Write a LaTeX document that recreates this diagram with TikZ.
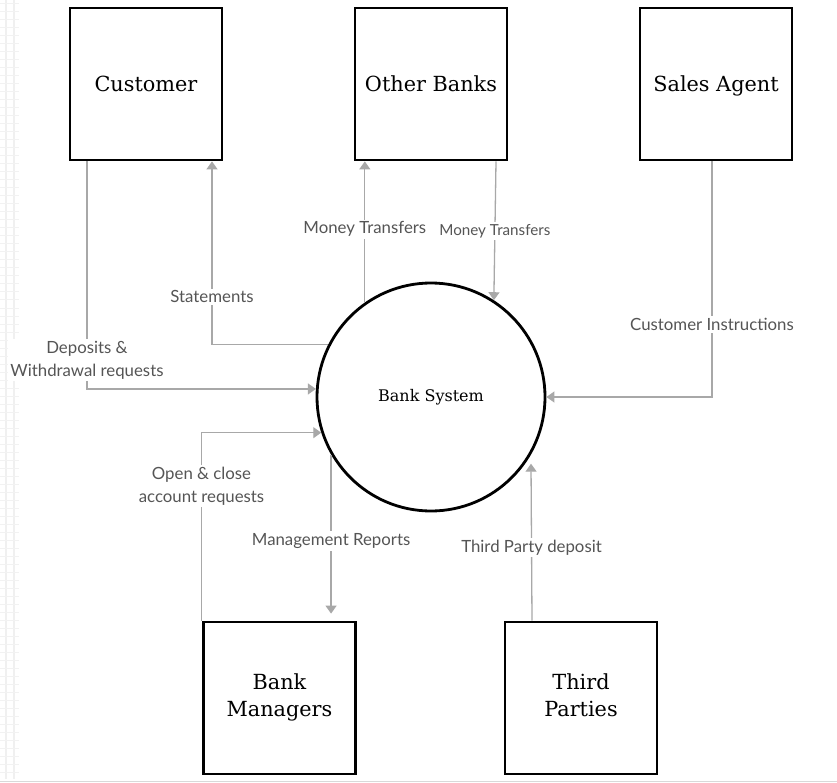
\documentclass[tikz,border=0pt]{standalone}
\usepackage{fontspec}
\setmainfont{DejaVu Serif}
\newfontfamily\lblfont{Lato}
\usetikzlibrary{arrows.meta, positioning}
\definecolor{flowgrey}{RGB}{168,168,168}
\definecolor{lblgrey}{RGB}{85,85,85}
\newcommand{\boxstrut}{\rule[-5pt]{0pt}{25pt}}

\begin{document}
\begin{tikzpicture}[x=1pt, y=-1pt,
    entity/.style={draw=black, line width=2.8pt, minimum size=152pt, inner sep=0pt, align=center, font=\fontsize{20.8}{27}\selectfont, execute at begin node=\boxstrut},
    process/.style={circle, draw=black, line width=2.8pt, minimum size=228pt, inner sep=0pt, font=\fontsize{16}{19}\selectfont},
    flow/.style={draw=flowgrey, line width=1.3pt, -{Triangle[width=11pt, length=8pt]}},
    lbl/.style={fill=white, text=lblgrey, inner sep=2pt, align=center, font=\lblfont\fontsize{16.8}{23}\selectfont},
    smalllbl/.style={lbl, font=\lblfont\fontsize{15.2}{18}\selectfont}
]
    % canvas
    \useasboundingbox (0,0) rectangle (837,783);
    \fill[white] (0,0) rectangle (837,783);
    % faint grid strip on the left
    \foreach \gx in {6,14} {
      \draw[black!6, line width=1.2pt] (\gx,0) -- (\gx,779);
    }
    \foreach \gy in {4,12,...,779} {
      \draw[black!5, line width=1pt] (0,\gy) -- (19,\gy);
    }
    \draw[black!15, line width=1.5pt] (0,781.5) -- (837,781.5);

    % external entities
    \node[entity] (cust) at (146,84) {Customer};
    \node[entity] (ob) at (431,84) {Other Banks};
    \node[entity] (sa) at (716,84) {Sales Agent};
    \node[entity] (bm) at (279.5,698) {Bank\\Managers};
    \node[entity] (tp) at (581,698) {Third\\Parties};

    % the system
    \node[process] (bank) at (431,397) {Bank System};

    % flows in and out of the system
    \draw[flow] ([xshift=-59pt]cust.south) |- (bank.176)
      node[lbl, pos=0.436] {Deposits \&\\Withdrawal requests};
    \draw[flow] (bank.153) -| ([xshift=66pt]cust.south)
      node[lbl, pos=0.63] {Statements};
    \draw[flow] (bank.125) -- (bank.125 |- ob.south)
      node[lbl, pos=0.52] {Money Transfers};
    \draw[flow] ([xshift=65pt]ob.south) -- (bank.57)
      node[smalllbl, midway] {Money Transfers};
    \draw[flow] ([xshift=-4pt]sa.south) |- (bank.east)
      node[lbl, pos=0.346] {Customer Instructions};
    \draw[flow] ([xshift=-78pt]bm.north) |- (bank.198)
      node[lbl, pos=0.358] {Open \& close\\account requests};
    \draw[flow, shorten >=7pt] (bank.-150) -- (bank.-150 |- bm.north)
      node[lbl, pos=0.52] {Management Reports};
    \draw[flow, shorten >=9pt] ([xshift=-49pt]tp.north) -- (bank.-30)
      node[lbl, pos=0.44] {Third Party deposit};
\end{tikzpicture}
\end{document}
